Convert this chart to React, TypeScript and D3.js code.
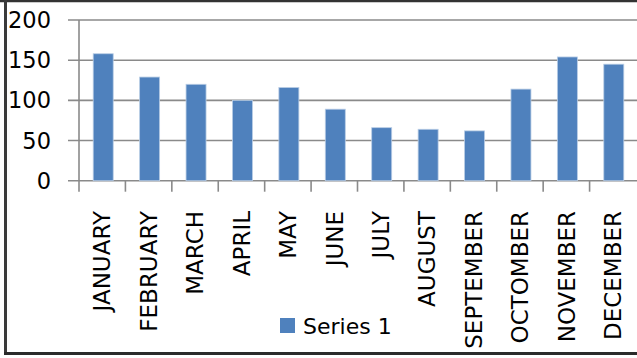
import React from "react";
import * as d3 from "d3";

const months = ["JANUARY","FEBRUARY","MARCH","APRIL","MAY","JUNE","JULY","AUGUST","SEPTEMBER","OCTOMBER","NOVEMBER","DECEMBER"];
const series1 = [158, 129, 120, 100, 116, 89, 66, 64, 62, 114, 154, 145];
const yTicks = [0, 50, 100, 150, 200];
const seriesName = "Series 1";

const W = 637, H = 358;
const left = 79, right = 636, top = 20, bottom = 180.7;
const font = "'DejaVu Sans', sans-serif";

export default function App() {
  const x = d3.scaleBand<string>().domain(months).range([left, right]).paddingInner(0).paddingOuter(0);
  const y = d3.scaleLinear().domain([0, 200]).range([bottom, top]);
  const bw = 20;
  const grid = "#8a8a8a";
  return (
    <svg width={W} height={H} style={{ position: "absolute", left: 0, top: 0, background: "#fff" }}>
      <rect x={0} y={0} width={W} height={H} fill="#fff" />
      {/* frame */}
      <line x1={0} x2={W} y1={1} y2={1} stroke="#333" strokeWidth={2.5} />
      <line x1={5.5} x2={5.5} y1={0} y2={355} stroke="#3a3a3a" strokeWidth={3} />
      <line x1={4} x2={W} y1={353.5} y2={353.5} stroke="#2a2a2a" strokeWidth={3} />
      {/* gridlines */}
      {yTicks.map(t => (
        <line key={t} x1={68} x2={W} y1={y(t)} y2={y(t)} stroke={grid} strokeWidth={1.6} />
      ))}
      <line x1={left} x2={left} y1={top} y2={bottom + 11} stroke={grid} strokeWidth={1.6} />
      {months.slice(0, -1).map(m => (
        <line key={"t" + m} x1={x(m)! + x.bandwidth()} x2={x(m)! + x.bandwidth()} y1={bottom} y2={bottom + 11} stroke={grid} strokeWidth={1.6} />
      ))}
      {/* bars */}
      {months.map((m, i) => {
        const cx = x(m)! + x.bandwidth() / 2 + 1;
        return (
          <rect key={"b" + m} x={cx - bw / 2} y={y(series1[i])} width={bw} height={y(0) - y(series1[i])}
            fill="#4f81bd" stroke="#b9cde5" strokeWidth={0.8} />
        );
      })}
      {/* y labels */}
      {yTicks.map(t => (
        <text key={"yl" + t} x={51} y={y(t)} dy="0.36em" textAnchor="end" fontFamily={font} fontSize={22.5} fill="#000">{t}</text>
      ))}
      {/* x labels */}
      {months.map(m => {
        const cx = x(m)! + x.bandwidth() / 2;
        return (
          <text key={"xl" + m} transform={`translate(${cx},211) rotate(-90)`} dy="0.36em" textAnchor="end"
            fontFamily={font} fontSize={23} fill="#000">{m}</text>
        );
      })}
      {/* legend */}
      <rect x={280} y={318} width={15} height={15} fill="#4f81bd" />
      <text x={303} y={334} fontFamily={font} fontSize={22} fill="#000">{seriesName}</text>
    </svg>
  );
}
